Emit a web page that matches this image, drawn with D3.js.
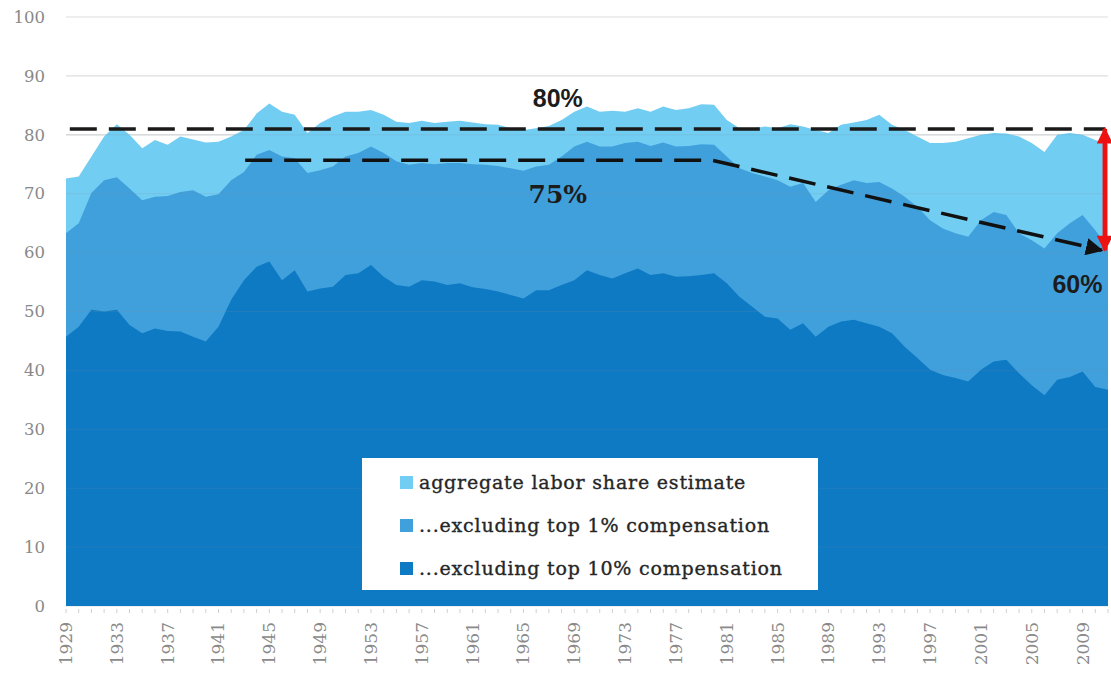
<!DOCTYPE html>
<html>
<head>
<meta charset="utf-8">
<script src="https://cdn.jsdelivr.net/npm/d3@7/dist/d3.min.js"></script>
<style>
  html, body { margin: 0; padding: 0; background: #ffffff; }
  svg { display: block; }
</style>
</head>
<body>
<svg id="chart" width="1111" height="673"></svg>
<script>
// Years covered by the series
const years = d3.range(1929, 2012);

// Aggregate labor share estimate (%)
const aggregate = [
  72.6, 72.9, 76.3, 79.7, 81.8, 80.0, 77.7, 79.1, 78.3, 79.7,
  79.2, 78.7, 78.8, 79.7, 80.8, 83.6, 85.3, 83.9, 83.4, 80.3,
  82.0, 83.1, 83.9, 83.9, 84.2, 83.4, 82.2, 82.0, 82.4, 82.0,
  82.2, 82.4, 82.1, 81.8, 81.7, 81.1, 80.8, 81.1, 81.5, 82.5,
  83.9, 84.8, 83.9, 84.1, 83.9, 84.5, 83.9, 84.8, 84.2, 84.5,
  85.2, 85.1, 82.5, 81.1, 81.1, 81.4, 81.1, 81.8, 81.4, 80.8,
  80.3, 81.7, 82.1, 82.5, 83.4, 81.7, 80.8, 79.7, 78.6, 78.6,
  78.8, 79.4, 80.0, 80.3, 80.2, 79.7, 78.6, 77.1, 80.0, 80.3,
  80.0, 79.1, 78.5
];

// Labor share excluding top 1% compensation (%)
const exTop1 = [
  63.3, 65.0, 70.1, 72.3, 72.8, 70.9, 68.9, 69.5, 69.6, 70.3,
  70.6, 69.5, 69.9, 72.3, 73.7, 76.6, 77.4, 76.3, 76.0, 73.5,
  74.0, 74.6, 76.3, 76.9, 78.0, 76.9, 75.5, 74.9, 75.2, 75.0,
  75.2, 75.2, 75.0, 74.9, 74.7, 74.3, 73.9, 74.6, 74.9, 76.3,
  78.0, 78.8, 78.0, 78.0, 78.6, 78.8, 78.1, 78.7, 78.0, 78.1,
  78.4, 78.3, 76.3, 74.3, 73.5, 72.9, 72.3, 71.2, 71.8, 68.6,
  70.6, 71.5, 72.3, 71.8, 72.0, 70.9, 69.5, 67.8, 65.5, 64.1,
  63.3, 62.7, 65.5, 66.9, 66.4, 63.3, 62.1, 60.7, 63.3, 65.0,
  66.4, 63.8, 61.0
];

// Labor share excluding top 10% compensation (%)
const exTop10 = [
  45.7, 47.4, 50.3, 50.0, 50.3, 47.7, 46.3, 47.1, 46.7, 46.6,
  45.7, 44.9, 47.4, 52.0, 55.3, 57.6, 58.5, 55.3, 57.0, 53.4,
  53.9, 54.2, 56.2, 56.5, 57.9, 55.9, 54.5, 54.2, 55.3, 55.1,
  54.5, 54.8, 54.1, 53.8, 53.4, 52.8, 52.2, 53.6, 53.6, 54.5,
  55.3, 57.0, 56.2, 55.6, 56.5, 57.3, 56.2, 56.5, 55.9, 56.0,
  56.2, 56.5, 54.8, 52.5, 50.8, 49.1, 48.8, 46.9, 48.0, 45.7,
  47.4, 48.3, 48.6, 48.0, 47.4, 46.3, 44.0, 42.1, 40.1, 39.2,
  38.7, 38.1, 40.1, 41.5, 41.8, 39.5, 37.5, 35.8, 38.4, 38.9,
  39.8, 37.2, 36.7
];

const seriesNames = [
  "aggregate labor share estimate",
  "...excluding top 1% compensation",
  "...excluding top 10% compensation"
];
const seriesValues = [aggregate, exTop1, exTop10];
const seriesColors = ["#72cdf3", "#40a0dc", "#0e7ac4"];

const yTicks = d3.range(0, 101, 10);
const xTickYears = d3.range(1929, 2012, 4);

// Reference annotations (year, percent)
const flatRef = [[1929.3, 81], [2010.8, 81]];
const declineRef = [[1943.1, 75.7], [1979.8, 75.7], [2010.5, 60.4]];
const gapArrow = [[2010.75, 81], [2010.75, 60.4]];
const callouts = [
  { text: "80%", year: 1967.7, value: 84.8, family: "'Liberation Sans', Arial, sans-serif" },
  { text: "75%", year: 1967.7, value: 68.4, family: "'DejaVu Serif', serif" },
  { text: "60%", year: 2008.6, value: 53.2, family: "'Liberation Sans', Arial, sans-serif" }
];

const svg = d3.select("#chart");
const x = d3.scaleLinear().domain([1929, 2011]).range([66, 1108]);
const y = d3.scaleLinear().domain([0, 100]).range([606, 17]);

// Gridlines behind the areas
svg.append("g").selectAll("line").data(yTicks).join("line")
  .attr("x1", x(1929)).attr("x2", x(2011))
  .attr("y1", d => y(d)).attr("y2", d => y(d))
  .attr("stroke", "#dedede").attr("stroke-width", 1.2);

// Overlapping (not stacked) areas, largest first
const area = d3.area()
  .x((d, i) => x(years[i]))
  .y0(y(0))
  .y1(d => y(d));

svg.append("g").selectAll("path").data(seriesValues).join("path")
  .attr("d", d => area(d))
  .attr("fill", (d, i) => seriesColors[i]);

// Faint gridlines showing through the areas
svg.append("g").selectAll("line").data(yTicks.filter(t => t > 0 && t < 90)).join("line")
  .attr("x1", x(1929)).attr("x2", x(2011))
  .attr("y1", d => y(d)).attr("y2", d => y(d))
  .attr("stroke", "#7a8a99").attr("stroke-opacity", 0.18).attr("stroke-width", 1);

// Y axis labels
svg.append("g").selectAll("text").data(yTicks).join("text")
  .attr("x", 45).attr("y", d => y(d)).attr("dy", "0.35em")
  .attr("text-anchor", "end")
  .attr("font-family", "'DejaVu Serif', serif")
  .attr("font-size", 16.5)
  .attr("fill", "#888888")
  .text(d => d);

// X axis minor ticks (every year)
svg.append("g").selectAll("line").data(years).join("line")
  .attr("x1", d => x(d)).attr("x2", d => x(d))
  .attr("y1", y(0) + 3).attr("y2", y(0) + 7)
  .attr("stroke", "#d0d0d0").attr("stroke-width", 1);

// X axis labels, rotated
svg.append("g").selectAll("text").data(xTickYears).join("text")
  .attr("transform", d => `translate(${x(d)},${y(0) + 16}) rotate(-90)`)
  .attr("dy", "0.35em")
  .attr("text-anchor", "end")
  .attr("font-family", "'DejaVu Serif', serif")
  .attr("font-size", 17)
  .attr("fill", "#8a8a8a")
  .text(d => d);

// Legend
const legend = svg.append("g");
legend.append("rect")
  .attr("x", 362).attr("y", 458).attr("width", 456).attr("height", 132)
  .attr("fill", "#ffffff");
const rows = legend.selectAll("g").data(seriesNames).join("g")
  .attr("transform", (d, i) => `translate(400,${482 + i * 43})`);
rows.append("rect")
  .attr("x", 0).attr("y", -6).attr("width", 13).attr("height", 13)
  .attr("fill", (d, i) => seriesColors[i]);
rows.append("text")
  .attr("x", 19).attr("dy", "0.35em")
  .attr("font-family", "'DejaVu Serif', serif")
  .attr("font-size", 19)
  .attr("letter-spacing", 0.8)
  .attr("fill", "#262626")
  .attr("stroke", "#262626").attr("stroke-width", 0.35)
  .text(d => d);

// Arrow markers
const defs = svg.append("defs");
defs.append("marker")
  .attr("id", "blackHead").attr("viewBox", "0 0 10 10")
  .attr("refX", 9).attr("refY", 5)
  .attr("markerWidth", 5).attr("markerHeight", 5)
  .attr("markerUnits", "strokeWidth")
  .attr("orient", "auto")
  .append("path").attr("d", "M0,0 L10,5 L0,10 Z").attr("fill", "#111111");
defs.append("marker")
  .attr("id", "redHead").attr("viewBox", "0 0 10 10")
  .attr("refX", 9).attr("refY", 5)
  .attr("markerWidth", 5).attr("markerHeight", 3.6)
  .attr("markerUnits", "strokeWidth")
  .attr("orient", "auto-start-reverse")
  .append("path").attr("d", "M0,0 L10,5 L0,10 Z").attr("fill", "#ee1111");

const line = d3.line().x(d => x(d[0])).y(d => y(d[1]));

// Reference lines
svg.append("path")
  .attr("d", line(flatRef))
  .attr("fill", "none").attr("stroke", "#1a1a1a")
  .attr("stroke-width", 3.5).attr("stroke-dasharray", "27,12");
svg.append("path")
  .attr("d", line(declineRef))
  .attr("fill", "none").attr("stroke", "#111111")
  .attr("stroke-width", 3.5).attr("stroke-dasharray", "27,12")
  .attr("marker-end", "url(#blackHead)");

// Red double-headed gap arrow
svg.append("path")
  .attr("d", line(gapArrow))
  .attr("fill", "none").attr("stroke", "#ee1111")
  .attr("stroke-width", 4.5)
  .attr("marker-start", "url(#redHead)")
  .attr("marker-end", "url(#redHead)");

// Percentage callouts
svg.append("g").selectAll("text").data(callouts).join("text")
  .attr("x", d => x(d.year)).attr("y", d => y(d.value))
  .attr("text-anchor", "middle")
  .attr("font-family", d => d.family)
  .attr("font-weight", "bold")
  .attr("font-size", 25)
  .attr("fill", "#1c1c1c")
  .text(d => d.text);
</script>
</body>
</html>
